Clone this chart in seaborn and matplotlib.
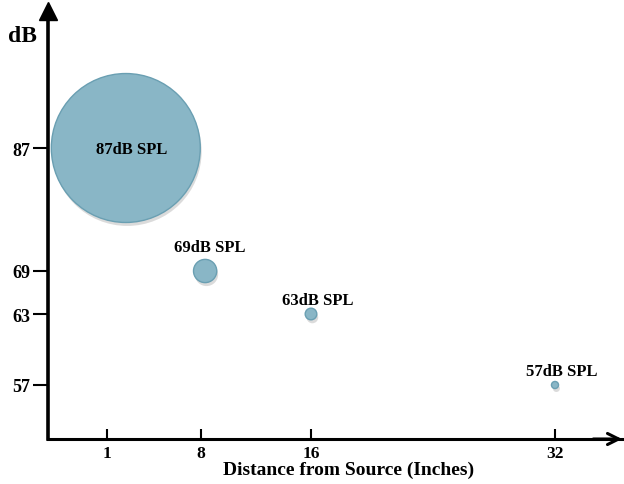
import numpy as np
import pandas as pd
import matplotlib
matplotlib.use("Agg")
import matplotlib.pyplot as plt
import matplotlib.patheffects as pe
import seaborn as sns

# Sound pressure level measured at increasing distance from the source
distance_in = [2.4, 8.3, 16.0, 32.0]
level_db = [87, 69, 63, 57]
point_labels = ["87dB SPL", "69dB SPL", "63dB SPL", "57dB SPL"]
x_ticks = [1, 8, 16, 32]
y_ticks = [87, 69, 63, 57]

df = pd.DataFrame({"distance": distance_in, "level": level_db, "label": point_labels})

sns.set_theme(style="white")
plt.rcParams["font.family"] = ["Liberation Serif", "DejaVu Serif"]
plt.rcParams["font.weight"] = "bold"

# Uneven axis spacing: piecewise-linear scales
x_knots = [0, 1, 8, 16, 32, 36]
x_pos = [0, 59, 153, 263, 507, 574]
y_knots = [50, 57, 63, 69, 87, 100]
y_pos = [0, 54, 125, 168, 291, 428]

def fx(v):
    return np.interp(v, x_knots, x_pos)

def ix(p):
    return np.interp(p, x_pos, x_knots)

def fy(v):
    return np.interp(v, y_knots, y_pos)

def iy(p):
    return np.interp(p, y_pos, y_knots)

fig = plt.figure(figsize=(6.24, 4.85), dpi=100)
ax = fig.add_axes([48 / 624, 45 / 485, 574 / 624, 428 / 485])
ax.set_xscale("function", functions=(fx, ix))
ax.set_yscale("function", functions=(fy, iy))
ax.set_xlim(0, 36)
ax.set_ylim(50, 100)

bubble_sizes = {87: 11500, 69: 280, 63: 70, 57: 26}
sns.scatterplot(data=df, x="distance", y="level", size="level", sizes=bubble_sizes,
                color="#89b6c6", edgecolor="#6a9fb2", linewidth=1.0, alpha=1,
                legend=False, ax=ax, zorder=3)
for coll in ax.collections:
    coll.set_path_effects([
        pe.SimplePatchShadow(offset=(1, -2.5), shadow_rgbFace="#8a8a8a", alpha=0.3),
        pe.Normal(),
    ])

# Value labels
offsets = [(4, -1), (3, 17), (5, 10), (5, 10)]
for (x, y, t), off in zip(zip(distance_in, level_db, point_labels), offsets):
    ax.annotate(t, (x, y), xytext=off, textcoords="offset points",
                ha="center", va="center", fontsize=12, fontweight="bold",
                color="black", zorder=4)

# Axes with arrowheads
for s in ["top", "right"]:
    ax.spines[s].set_visible(False)
ax.spines["left"].set_linewidth(2.6)
ax.spines["bottom"].set_linewidth(2.2)
ax.spines["left"].set_color("black")
ax.spines["bottom"].set_color("black")
ax.plot([0], [1], marker="^", markersize=13, color="black",
        transform=ax.transAxes, clip_on=False)
ax.annotate("", xy=(1.0, 0), xytext=(0.95, 0), xycoords="axes fraction",
            arrowprops=dict(arrowstyle="->", lw=2.2, color="black",
                            mutation_scale=20, shrinkA=0, shrinkB=0))

ax.set_xticks(x_ticks)
ax.set_xticklabels([str(v) for v in x_ticks])
ax.set_yticks(y_ticks)
ax.set_yticklabels([str(v) for v in y_ticks])
ax.minorticks_off()
ax.tick_params(axis="x", direction="in", length=7, width=1.5, pad=4,
               labelsize=12.5, colors="black", bottom=True)
ax.tick_params(axis="y", direction="out", length=11, width=1.5, pad=2,
               labelsize=13, colors="black", left=True)
for lbl in ax.get_xticklabels() + ax.get_yticklabels():
    lbl.set_fontweight("bold")

ax.set_xlabel("Distance from Source (Inches)", fontsize=14, fontweight="bold",
              color="black")
ax.xaxis.set_label_coords(0.523, -0.072)
ax.xaxis.label.set_va("center")
ax.set_ylabel("dB", fontsize=17, fontweight="bold", rotation=0, color="black")
ax.yaxis.set_label_coords(-0.044, (440 - 36) / 428)
ax.yaxis.label.set_va("center")
ax.yaxis.label.set_ha("center")

fig.savefig("out.png", dpi=100)
